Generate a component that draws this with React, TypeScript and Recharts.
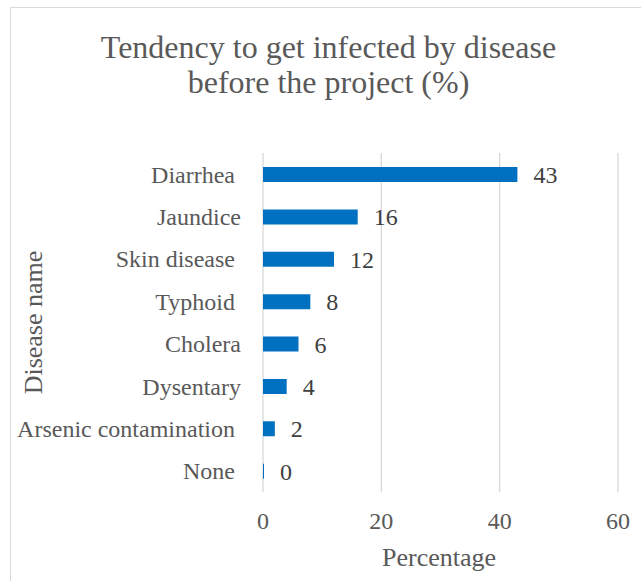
import React from 'react';
import { BarChart, Bar, XAxis, YAxis, CartesianGrid, LabelList } from 'recharts';

const categories = ['Diarrhea ', 'Jaundice', 'Skin disease ', 'Typhoid ', 'Cholera', 'Dysentary', 'Arsenic contamination ', 'None '];
const values = [43, 16, 12, 8, 6, 4, 2, 0];
const xTicks = [0, 20, 40, 60];
const titleLines = ['Tendency to get infected by disease', 'before the project (%)'];
const xTitle = 'Percentage';
const yTitle = 'Disease name';

const data = categories.map((name, i) => ({ name, value: values[i] }));

const FONT = '"Liberation Serif", "Times New Roman", serif';
const W = 630;
const H = 573;

const CategoryTick = (props: any) => {
  const { x, y, payload } = props;
  return (
    <text
      x={x}
      y={y}
      dy="0.355em"
      textAnchor="end"
      fill="#595959"
      fontSize={24}
      fontFamily={FONT}
      xmlSpace="preserve"
      style={{ whiteSpace: 'pre' }}
    >
      {payload.value}
    </text>
  );
};

export default function App() {
  return (
    <div
      style={{
        position: 'absolute',
        left: 10,
        top: 7,
        width: 631,
        height: 574,
        borderLeft: '1px solid #d9d9d9',
        borderTop: '1px solid #d9d9d9',
        boxSizing: 'border-box',
        background: '#fff',
      }}
    >
      <div style={{ position: 'absolute', left: 0, top: 0 }}>
        <BarChart
          width={W}
          height={H}
          data={data}
          layout="vertical"
          margin={{ top: 145, right: 23, bottom: 59, left: 0 }}
        >
          <CartesianGrid horizontal={false} stroke="#d9d9d9" strokeWidth={1.3} />
          <XAxis
            type="number"
            domain={[0, 60]}
            ticks={xTicks}
            axisLine={false}
            tickLine={false}
            tickSize={0}
            tickMargin={20}
            height={30}
            tick={{ fill: '#595959', fontSize: 24, fontFamily: FONT }}
          />
          <YAxis
            type="category"
            dataKey="name"
            width={252}
            axisLine={false}
            tickLine={false}
            tickSize={0}
            tickMargin={22}
            tick={<CategoryTick />}
            interval={0}
          />
          <Bar dataKey="value" fill="#0070C0" barSize={15} minPointSize={1} isAnimationActive={false}>
            <LabelList
              dataKey="value"
              position="right"
              offset={16}
              fill="#404040"
              fontSize={24}
              fontFamily={FONT}
            />
          </Bar>
        </BarChart>
      </div>
      <svg
        width={W}
        height={H}
        style={{ position: 'absolute', left: 0, top: 0, pointerEvents: 'none' }}
      >
        <text x={317.5} y={50.3} textAnchor="middle" fill="#595959" fontSize={32} fontFamily={FONT}>
          {titleLines[0]}
        </text>
        <text x={317.5} y={85.3} textAnchor="middle" fill="#595959" fontSize={32} fontFamily={FONT}>
          {titleLines[1]}
        </text>
        <text x={428} y={558} textAnchor="middle" fill="#595959" fontSize={26} fontFamily={FONT}>
          {xTitle}
        </text>
        <text
          x={31}
          y={314.5}
          textAnchor="middle"
          fill="#595959"
          fontSize={26}
          fontFamily={FONT}
          transform="rotate(-90, 31, 314.5)"
        >
          {yTitle}
        </text>
      </svg>
    </div>
  );
}
